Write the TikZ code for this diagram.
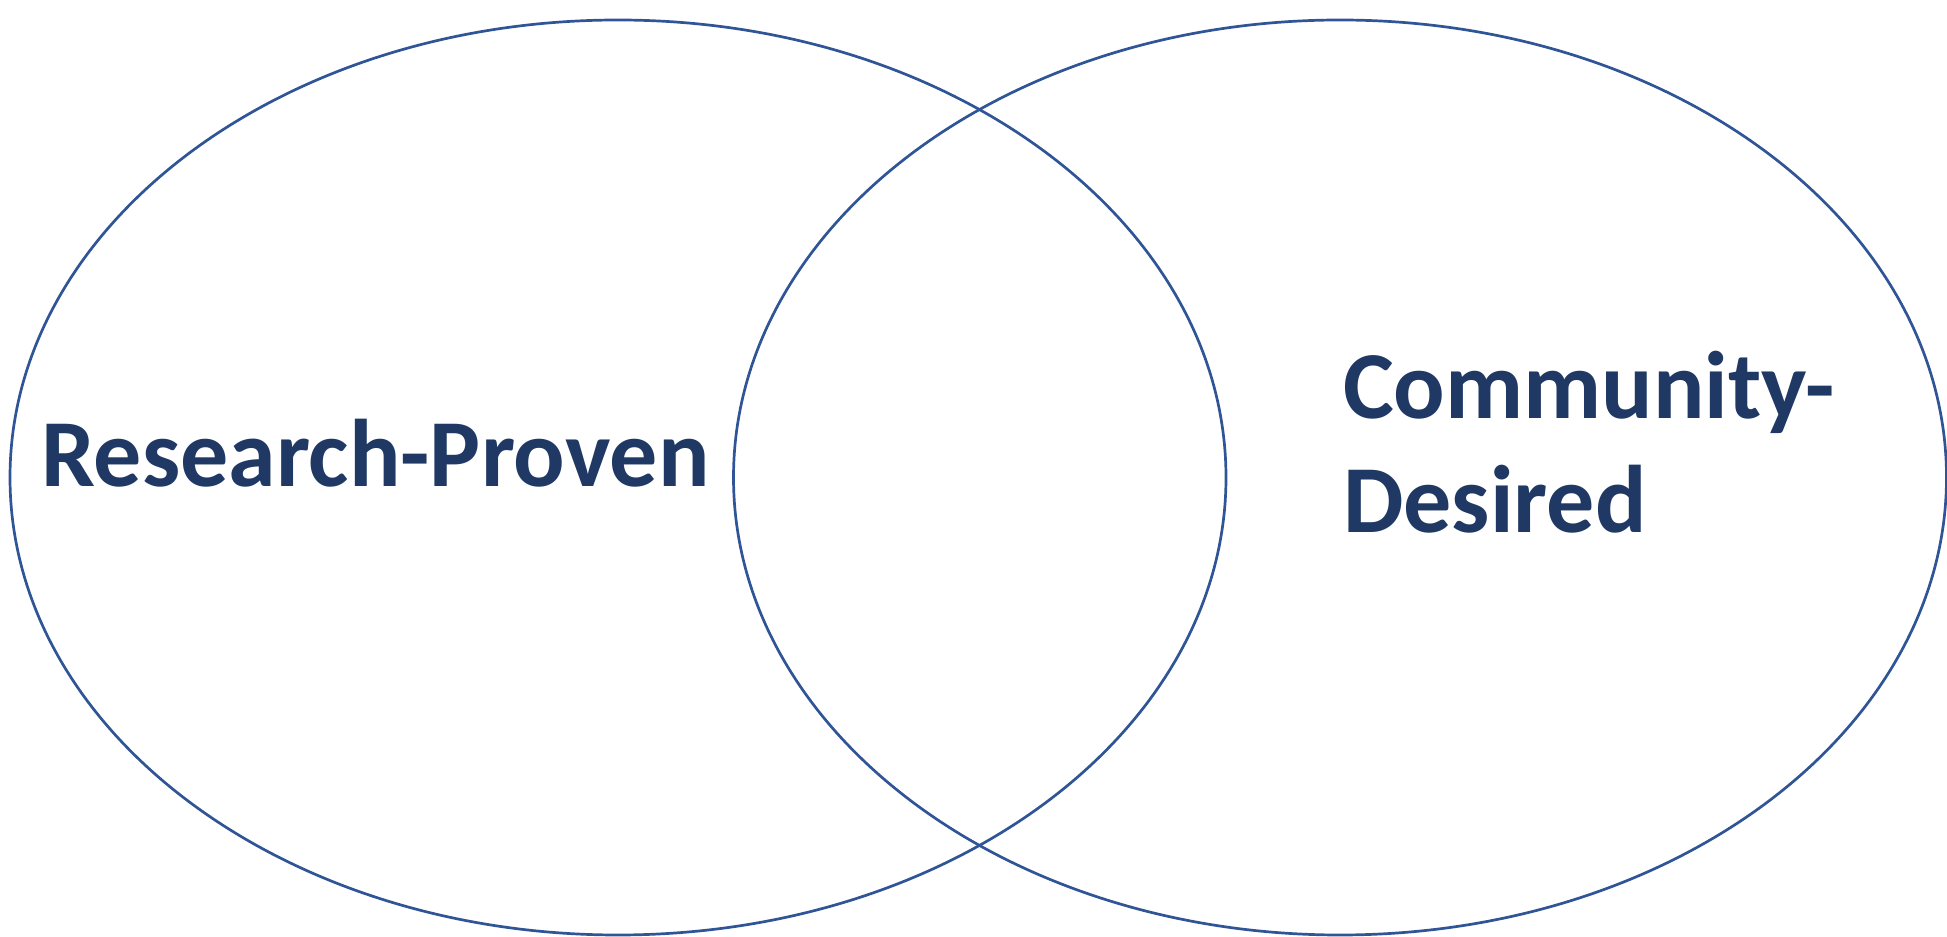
\documentclass[tikz,border=0pt]{standalone}
\usepackage{fontspec}
\setmainfont{Carlito}
\definecolor{ringblue}{HTML}{2F5597}
\definecolor{labelnavy}{HTML}{1F3864}
\begin{document}
\begin{tikzpicture}[x=1pt,y=1pt,
  ring/.style={draw=ringblue,line width=2.7pt},
  setlabel/.style={inner sep=0pt,anchor=base west,text=labelnavy,
    font=\bfseries\fontsize{96}{114}\selectfont}]
  \useasboundingbox (0,0) rectangle (1947,937);
  % the two overlapping sets
  \draw[ring] (618,459.5) ellipse [x radius=608, y radius=457.5];
  \draw[ring] (1340,459.5) ellipse [x radius=606.5, y radius=457.5];
  % set labels
  \node[setlabel] (research) at (41,450) {Research-Proven};
  \node[setlabel] (community) at (1343,518) {Community-};
  \node[setlabel] (desired) at (1343,404) {Desired};
\end{tikzpicture}
\end{document}
